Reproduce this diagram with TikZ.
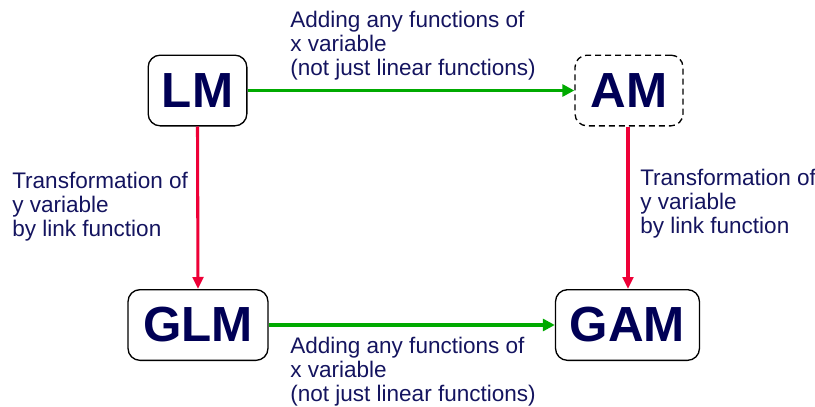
\documentclass[tikz,border=0pt]{standalone}
\usepackage{fontspec}
\setmainfont{Liberation Sans}
\usetikzlibrary{arrows.meta}
\definecolor{navy}{RGB}{0,0,85}
\definecolor{labeltext}{RGB}{20,20,95}
\definecolor{addgreen}{RGB}{0,170,0}
\definecolor{linkred}{RGB}{238,0,55}

\begin{document}
\begin{tikzpicture}[x=0.75pt,y=-0.75pt,
  model/.style={draw=black,line width=1pt,rounded corners=9pt,fill=white,
    text=navy,font=\fontsize{37}{37}\selectfont\bfseries,inner sep=0pt},
  optional/.style={dash pattern=on 4.5pt off 3pt},
  additive/.style={addgreen,line width=2.3pt,
    -{Triangle[length=9pt,width=9pt]}},
  link/.style={linkred,line width=2.3pt,
    -{Triangle[length=9pt,width=8pt]}},
  note/.style={text=labeltext,align=left,anchor=west,inner sep=0pt,
    font=\fontsize{16.9}{18}\selectfont}]
  \useasboundingbox (0,0) rectangle (815,407);

  % the four models
  \node[model,minimum width=74pt,minimum height=53pt] (lm) at (197.5,90.5) {LM};
  \node[model,optional,minimum width=81pt,minimum height=53pt] (am) at (629,90.5) {AM};
  \node[model,minimum width=105pt,minimum height=53pt] (glm) at (198,325) {GLM};
  \node[model,minimum width=108pt,minimum height=53pt] (gam) at (627.5,325) {GAM};

  \draw[additive] (lm) -- (am);
  \draw[additive] (glm) -- (gam);
  \draw[link] (lm.south) -- (glm.north);
  \draw[link] (am.south -| 628,0) -- (gam.north -| 628,0);

  \node[note] (addtop) at (290,46)
    {Adding any functions of\\x variable\\(not just linear functions)};
  \node[note] (addbot) at (290,372)
    {Adding any functions of\\x variable\\(not just linear functions)};
  \node[note] (linkleft) at (12,207)
    {Transformation of\\y variable\\by link function};
  \node[note] (linkright) at (640,204)
    {Transformation of\\y variable\\by link function};
\end{tikzpicture}
\end{document}
